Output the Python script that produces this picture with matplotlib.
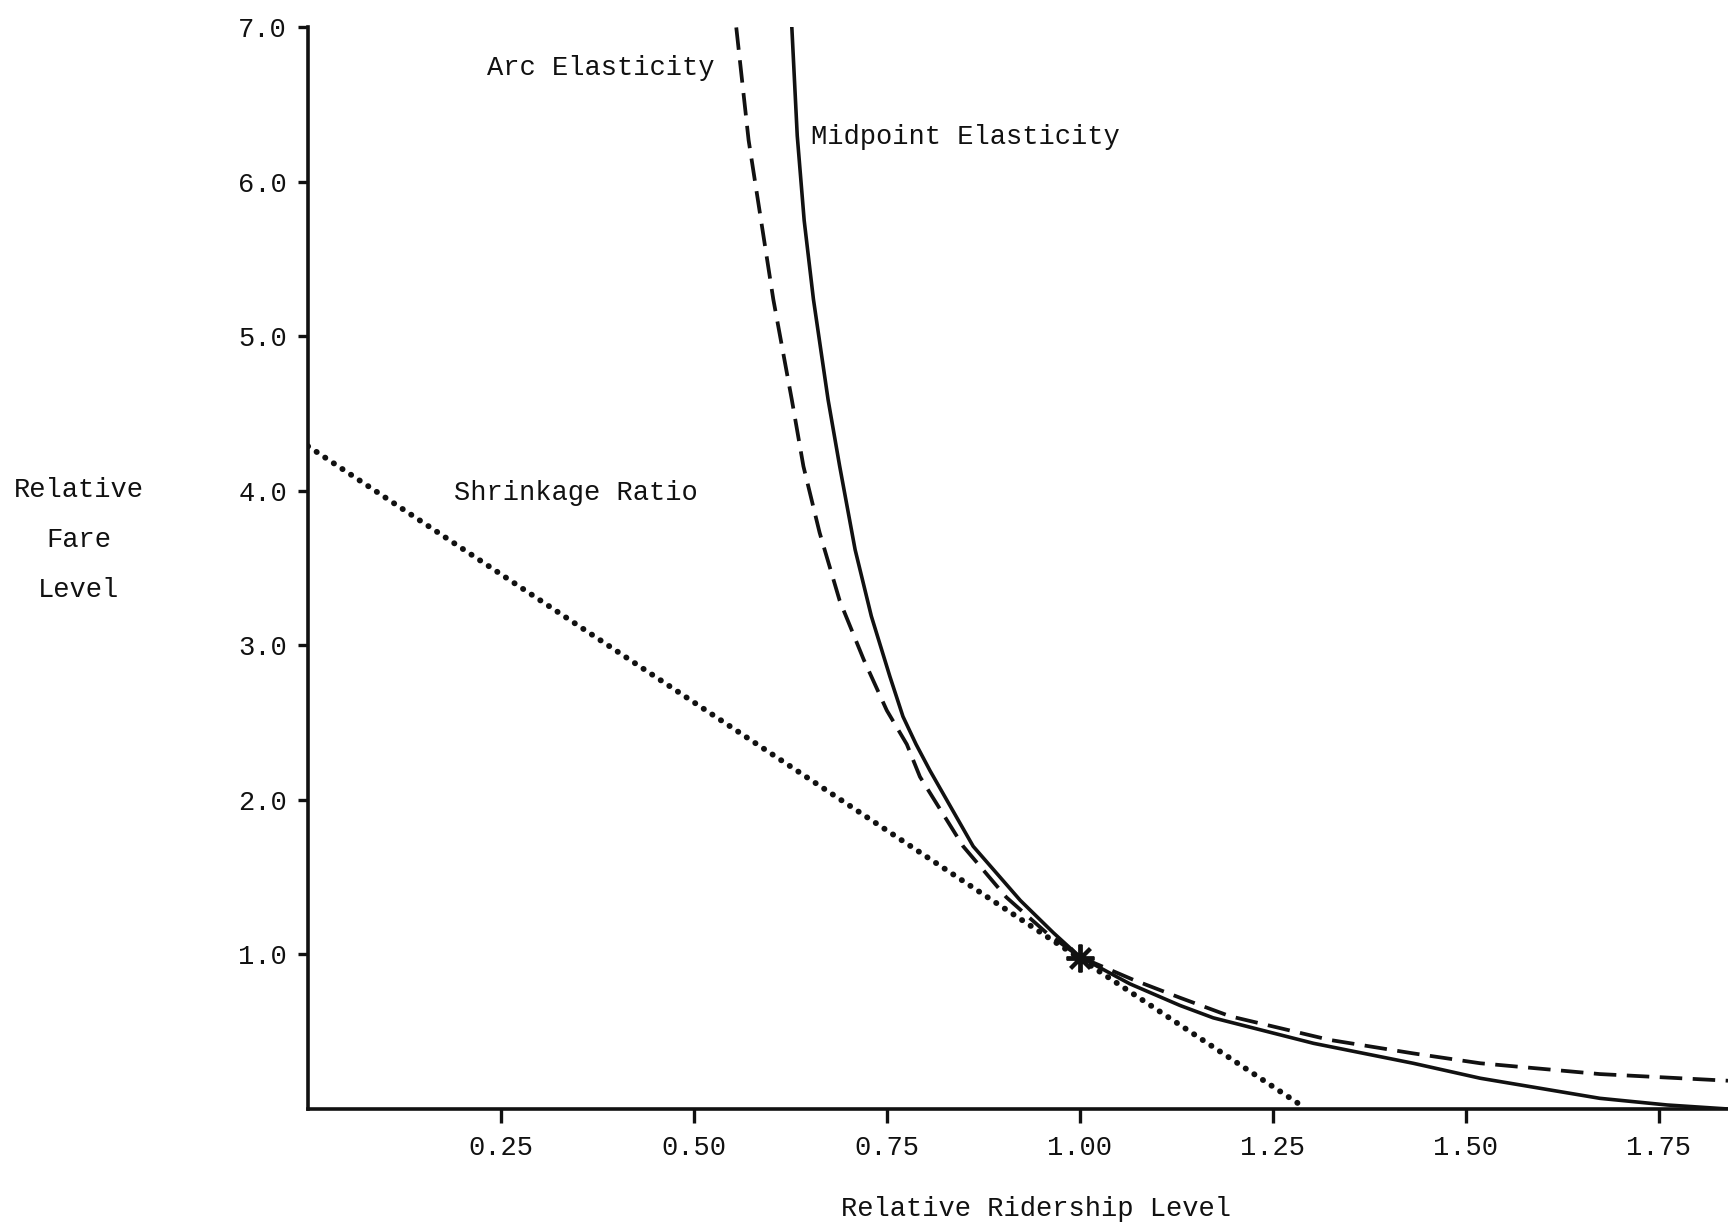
import matplotlib
matplotlib.use("Agg")
import matplotlib.pyplot as plt

# values
mid_x = [0.627, 0.634, 0.643, 0.655, 0.674, 0.689, 0.709, 0.730, 0.754, 0.771, 0.788,
         0.806, 0.862, 0.923, 0.966, 1.000, 1.065, 1.130, 1.173, 1.303, 1.432,
         1.519, 1.674, 1.761, 1.840]
mid_y = [7.00, 6.30, 5.75, 5.24, 4.59, 4.16, 3.62, 3.19, 2.80, 2.54, 2.36,
         2.19, 1.70, 1.35, 1.14, 0.985, 0.81, 0.67, 0.59, 0.425, 0.296,
         0.199, 0.069, 0.026, 0.0]

arc_x = [0.555, 0.571, 0.603, 0.627, 0.642, 0.663, 0.689, 0.720, 0.750, 0.776, 0.793,
         0.849, 0.905, 0.957, 1.000, 1.070, 1.130, 1.195, 1.324, 1.432, 1.519,
         1.674, 1.840]
arc_y = [7.00, 6.27, 5.24, 4.59, 4.16, 3.73, 3.29, 2.91, 2.58, 2.36, 2.15,
         1.70, 1.37, 1.14, 0.985, 0.835, 0.72, 0.60, 0.447, 0.36, 0.296,
         0.226, 0.183]

shrink_x = [0.0, 1.285]
shrink_y = [4.29, 0.03]

base_x = [1.0]
base_y = [0.975]

xticks = [0.25, 0.50, 0.75, 1.00, 1.25, 1.50, 1.75]
xlabels = ["0.25", "0.50", "0.75", "1.00", "1.25", "1.50", "1.75"]
yticks = [1, 2, 3, 4, 5, 6, 7]
ylabels = ["1.0", "2.0", "3.0", "4.0", "5.0", "6.0", "7.0"]

plt.rcParams["font.family"] = ["Liberation Mono", "DejaVu Sans Mono"]
ink = "#111111"
fs = 19.5

fig = plt.figure(figsize=(17.28, 12.25), dpi=100)
ax = fig.add_axes([0.1782, 0.0947, 0.8218, 0.8829])

ax.plot(mid_x, mid_y, color=ink, lw=2.6, solid_joinstyle="round")
ax.plot(arc_x, arc_y, color=ink, lw=2.7, dashes=(6.0, 2.8))
ax.plot(shrink_x, shrink_y, color=ink, lw=4.2, dashes=(0.05, 1.72),
        dash_capstyle="round")
ax.plot(base_x, base_y, ls="none", marker=(8, 2, 0), ms=20, mew=2.8,
        color=ink, zorder=5)

ax.text(0.232, 6.74, "Arc Elasticity", fontsize=fs, color=ink, va="center")
ax.text(0.652, 6.29, "Midpoint Elasticity", fontsize=fs, color=ink, va="center")
ax.text(0.189, 3.99, "Shrinkage Ratio", fontsize=fs, color=ink, va="center")

fig.text(0.0457, 0.600, "Relative", fontsize=fs, color=ink, ha="center", va="center")
fig.text(0.0457, 0.559, "Fare", fontsize=fs, color=ink, ha="center", va="center")
fig.text(0.0457, 0.518, "Level", fontsize=fs, color=ink, ha="center", va="center")
fig.text(0.5995, 0.013, "Relative Ridership Level", fontsize=fs, color=ink,
         ha="center", va="center")

ax.set_xlim(0, 1.84)
ax.set_ylim(0, 7)
ax.set_xticks(xticks)
ax.set_xticklabels(xlabels)
ax.set_yticks(yticks)
ax.set_yticklabels(ylabels)

for s in ["top", "right"]:
    ax.spines[s].set_visible(False)
for s in ["left", "bottom"]:
    ax.spines[s].set_linewidth(2.6)
    ax.spines[s].set_color(ink)

ax.tick_params(axis="x", length=10, width=2.4, pad=9, labelsize=fs, colors=ink)
ax.tick_params(axis="y", length=7, width=2.4, pad=8, labelsize=fs, colors=ink)

fig.savefig("out.png", dpi=100, facecolor="white")
